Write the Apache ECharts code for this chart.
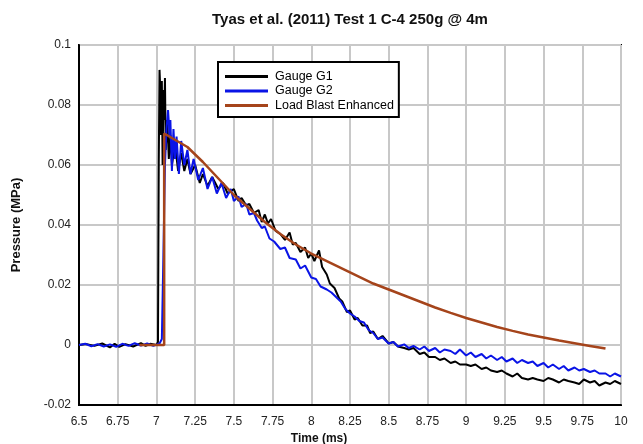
<!DOCTYPE html>
<html><head><meta charset="utf-8">
<script src="https://cdn.jsdelivr.net/npm/echarts@6/dist/echarts.min.js"></script>
<style>html,body{margin:0;padding:0;background:#fff}#c{width:643px;height:444px}</style>
</head><body><div id="c"></div>
<script>
const seriesNames = ['Gauge G1', 'Gauge G2', 'Load Blast Enhanced'];
const xTicks = ['6.5','6.75','7','7.25','7.5','7.75','8','8.25','8.5','8.75','9','9.25','9.5','9.75','10'];
const yTicks = ['-0.02','0','0.02','0.04','0.06','0.08','0.1'];

const g1Time = [6.5,6.55,6.6,6.65,6.7,6.73,6.76,6.8,6.85,6.9,6.93,6.96,7.0,7.01,
  7.015,7.02,7.025,7.03,7.035,7.04,7.045,7.05,7.055,7.06,7.07,7.08,7.09,7.1,7.12,7.14,7.16,7.18,7.2,7.22,7.25,7.28,7.3,7.33,7.36,7.4,7.43,7.46,7.5,7.53,7.55,7.58,7.6,7.63,7.66,7.68,7.7,7.72,7.74,7.77,7.8,7.83,7.86,7.88,7.9,7.93,7.96,7.98,8.0,8.02,8.05,8.07,8.1,8.12,8.15,8.18,8.2,8.23,8.25,8.28,8.3,8.33,8.36,8.38,8.4,8.43,8.46,8.5,8.53,8.56,8.6,8.63,8.66,8.7,8.73,8.76,8.8,8.83,8.86,8.9,8.93,8.96,9.0,9.03,9.06,9.1,9.13,9.16,9.2,9.23,9.26,9.3,9.33,9.36,9.4,9.43,9.46,9.5,9.53,9.56,9.6,9.63,9.66,9.7,9.73,9.76,9.8,9.83,9.86,9.9,9.93,9.96,10.0];
const g1Pressure = [0,0.0003,-0.0003,0.0005,-0.0008,0.0004,-0.0006,0.0003,-0.0005,0.0006,-0.0003,0.0004,0,0.001,
  0.06,0.0917,0.085,0.07,0.088,0.06,0.085,0.075,0.089,0.065,0.075,0.062,0.07,0.06,0.067,0.058,0.064,0.058,0.062,0.057,0.06,0.054,0.057,0.053,0.056,0.052,0.054,0.0505,0.052,0.048,0.049,0.0465,0.047,0.044,0.045,0.041,0.0435,0.0405,0.042,0.038,0.037,0.035,0.0375,0.0335,0.034,0.031,0.0325,0.029,0.0305,0.028,0.0315,0.026,0.0235,0.0205,0.019,0.0155,0.0145,0.011,0.0115,0.0085,0.009,0.0065,0.0065,0.004,0.0045,0.002,0.003,0.0005,0.001,-0.0005,-0.001,-0.0015,-0.001,-0.003,-0.0025,-0.004,-0.004,-0.005,-0.0045,-0.006,-0.0055,-0.0065,-0.0065,-0.007,-0.0065,-0.008,-0.0075,-0.0085,-0.009,-0.0085,-0.0095,-0.0105,-0.0095,-0.011,-0.0115,-0.011,-0.0115,-0.012,-0.011,-0.0115,-0.0125,-0.0115,-0.012,-0.0125,-0.013,-0.0115,-0.0125,-0.012,-0.0135,-0.0125,-0.013,-0.012,-0.013];

const g2Time = [6.5,6.54,6.58,6.62,6.66,6.7,6.74,6.78,6.82,6.86,6.9,6.94,6.98,7.02,7.035,
  7.045,7.055,7.065,7.075,7.085,7.09,7.1,7.11,7.12,7.13,7.145,7.16,7.18,7.2,7.22,7.24,7.27,7.3,7.33,7.36,7.39,7.42,7.45,7.48,7.5,7.53,7.55,7.58,7.6,7.63,7.65,7.68,7.7,7.73,7.76,7.8,7.83,7.86,7.9,7.93,7.96,8.0,8.03,8.06,8.1,8.13,8.16,8.19,8.22,8.25,8.28,8.31,8.34,8.37,8.4,8.43,8.46,8.5,8.53,8.56,8.6,8.63,8.66,8.7,8.73,8.76,8.8,8.83,8.86,8.9,8.93,8.96,9.0,9.03,9.06,9.1,9.13,9.16,9.2,9.23,9.26,9.3,9.33,9.36,9.4,9.43,9.46,9.5,9.53,9.56,9.6,9.63,9.66,9.7,9.73,9.76,9.8,9.83,9.86,9.9,9.93,9.96,10.0];
const g2Pressure = [0,0.0004,-0.0004,0.0003,-0.0005,0.0002,-0.0006,0.0004,-0.0003,0.0006,-0.0002,0.0005,-0.0003,0.0005,0.002,
  0.03,0.06,0.072,0.0783,0.07,0.075,0.058,0.072,0.062,0.0695,0.057,0.068,0.06,0.065,0.057,0.062,0.055,0.059,0.052,0.056,0.0505,0.054,0.049,0.052,0.048,0.0495,0.046,0.047,0.0435,0.044,0.0415,0.039,0.0395,0.0355,0.0345,0.032,0.0325,0.029,0.0285,0.0255,0.0265,0.0225,0.022,0.0195,0.0185,0.0175,0.016,0.0145,0.012,0.0105,0.0095,0.008,0.0075,0.005,0.004,0.002,0.0025,0.0005,0.001,-0.0005,0.0002,-0.001,-0.0003,-0.0015,-0.0005,-0.002,-0.001,-0.0025,-0.0015,-0.002,-0.003,-0.0015,-0.0035,-0.0025,-0.004,-0.003,-0.0045,-0.0035,-0.005,-0.004,-0.0055,-0.0045,-0.006,-0.005,-0.006,-0.0055,-0.007,-0.006,-0.0075,-0.0065,-0.008,-0.007,-0.0085,-0.0075,-0.0085,-0.008,-0.009,-0.0085,-0.0095,-0.0095,-0.0105,-0.0095,-0.0105];

const lbeTime = [6.89,7.05,7.05,7.1,7.2,7.3,7.4,7.5,7.6,7.7,7.8,7.9,8.0,8.1,8.2,8.3,8.4,8.5,8.6,8.7,8.8,8.9,9.0,9.1,9.2,9.3,9.4,9.5,9.6,9.7,9.8,9.9];
const lbePressure = [0,0,0.0705,0.069,0.066,0.061,0.0555,0.05,0.0455,0.041,0.037,0.0335,0.0305,0.028,0.0255,0.023,0.0205,0.0185,0.0165,0.0145,0.0125,0.0107,0.009,0.0075,0.006,0.0047,0.0035,0.0025,0.0015,0.0006,-0.0003,-0.0012];

const zip = (a, b) => a.map((v, i) => [v, b[i]]);
const fmt = v => String(parseFloat(v.toFixed(4)));
const FONT = 'Arial, "Liberation Sans", sans-serif';

const chart = echarts.init(document.getElementById('c'), null, {renderer: 'canvas'});
chart.setOption({
  animation: false,
  backgroundColor: '#fff',
  title: {
    text: 'Tyas et al. (2011) Test 1 C-4 250g @ 4m',
    left: 345, top: 7, textAlign: 'center',
    textStyle: {fontFamily: FONT, fontSize: 15, fontWeight: 'bold', color: '#111'}
  },
  legend: {
    data: seriesNames,
    orient: 'vertical',
    left: 218, top: 62,
    backgroundColor: '#fff',
    borderColor: '#000', borderWidth: 2,
    padding: [8, 5, 5, 7],
    icon: 'rect',
    itemWidth: 43, itemHeight: 3, itemGap: 1.5,
    textStyle: {fontFamily: FONT, fontSize: 12.5, color: '#000', padding: [0, 0, 0, 2]}
  },
  grid: {left: 79, right: 22, top: 45, bottom: 39, show: true, borderColor: '#000', borderWidth: 2,
    backgroundColor: 'transparent', containLabel: false, outerBoundsMode: 'none'},
  xAxis: {
    type: 'value', min: 6.5, max: 10, interval: 0.25,
    name: 'Time (ms)', nameLocation: 'middle', nameGap: 26,
    nameTextStyle: {fontFamily: FONT, fontSize: 12, fontWeight: 'bold', color: '#111', padding: [0, 62, 0, 0]},
    axisLine: {onZero: false, lineStyle: {color: '#000', width: 2}},
    axisTick: {show: false},
    axisLabel: {fontFamily: FONT, fontSize: 12, color: '#222', margin: 11, formatter: v => fmt(v)},
    splitLine: {show: true, lineStyle: {color: '#c8c8c8', width: 2}}
  },
  yAxis: {
    type: 'value', min: -0.02, max: 0.1, interval: 0.02,
    name: 'Pressure (MPa)', nameLocation: 'middle', nameGap: 56,
    nameTextStyle: {fontFamily: FONT, fontSize: 13, fontWeight: 'bold', color: '#111'},
    axisLine: {onZero: false, lineStyle: {color: '#000', width: 2}},
    axisTick: {show: false},
    axisLabel: {fontFamily: FONT, fontSize: 12, color: '#222', margin: 8, formatter: v => fmt(v)},
    splitLine: {show: true, lineStyle: {color: '#c8c8c8', width: 2}}
  },
  series: [
    {name: seriesNames[0], type: 'line', data: zip(g1Time, g1Pressure), showSymbol: false, symbol: 'none',
      lineStyle: {color: '#000', width: 2}, itemStyle: {color: '#000'}, z: 3},
    {name: seriesNames[1], type: 'line', data: zip(g2Time, g2Pressure), showSymbol: false, symbol: 'none',
      lineStyle: {color: '#0a14e6', width: 2}, itemStyle: {color: '#0a14e6'}, z: 4},
    {name: seriesNames[2], type: 'line', data: zip(lbeTime, lbePressure), showSymbol: false, symbol: 'none',
      lineStyle: {color: '#a5441b', width: 2.5}, itemStyle: {color: '#a5441b'}, z: 5}
  ]
});
</script></body></html>
